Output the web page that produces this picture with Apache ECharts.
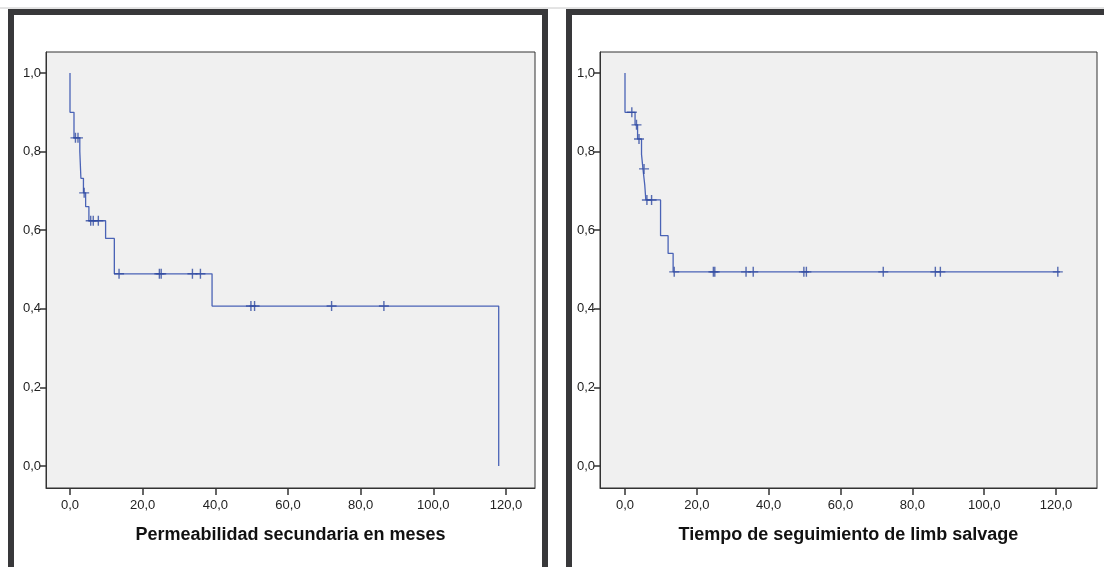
<!DOCTYPE html>
<html>
<head>
<meta charset="utf-8">
<script src="https://cdn.jsdelivr.net/npm/echarts@6/dist/echarts.min.js"></script>
<style>
html,body{margin:0;padding:0;background:#fff;}
#c{width:1104px;height:567px;}
</style>
</head>
<body>
<div id="c"></div>
<script>
// Left panel: Permeabilidad secundaria (Kaplan-Meier)
const leftEventTimes = [0, 1.1, 2.7, 3.0, 3.7, 4.3, 5.2, 9.8, 12.2, 39.1, 118.0];
const leftSurvival   = [0.90, 0.835, 0.80, 0.732, 0.695, 0.66, 0.624, 0.579, 0.489, 0.407, 0.0];
const leftCensored   = [1.5, 2.2, 3.9, 5.7, 6.4, 7.8, 13.5, 24.6, 25.1, 33.7, 35.9, 49.8, 50.8, 72.0, 86.4];
const leftTitle = 'Permeabilidad secundaria en meses';

// Right panel: Tiempo de seguimiento de limb salvage
const rightEventTimes = [0, 2.8, 3.5, 4.6, 5.0, 5.5, 5.8, 9.9, 12.0, 13.4];
const rightSurvival   = [0.90, 0.868, 0.832, 0.793, 0.756, 0.715, 0.677, 0.586, 0.541, 0.494];
const rightCensored   = [1.9, 3.2, 3.9, 5.3, 6.1, 7.4, 13.7, 24.6, 25.0, 33.7, 35.7, 49.8, 50.5, 71.9, 86.4, 87.8, 120.5];
const rightTitle = 'Tiempo de seguimiento de limb salvage';

const xTicks = [0, 20, 40, 60, 80, 100, 120];
const yTicks = [0, 0.2, 0.4, 0.6, 0.8, 1.0];

function survAt(times, surv, t) {
  let s = 1.0;
  for (let i = 0; i < times.length; i++) if (times[i] <= t) s = surv[i];
  return s;
}
function stepLine(times, surv, endT) {
  const pts = [[0, 1.0]];
  for (let i = 0; i < times.length; i++) pts.push([times[i], surv[i]]);
  if (endT != null && endT > times[times.length - 1]) pts.push([endT, surv[surv.length - 1]]);
  return pts;
}
function censorPts(times, surv, cens) {
  return cens.map(t => [t, survAt(times, surv, t)]);
}
const fmt = v => v.toFixed(1).replace('.', ',');

const FONT = 'Liberation Sans, Arial, sans-serif';
const lineColor = '#4a63b6';
const plus = 'path://M-0.14,-1H0.14V1H-0.14ZM-1,-0.14H1V0.14H-1Z';

function xAx(idx, min, max, name) {
  return {
    type: 'value', gridIndex: idx, min: min, max: max,
    splitLine: {show: false},
    axisLine: {show: true, onZero: false, lineStyle: {color: '#333', width: 1}},
    axisTick: {show: true, inside: false, length: 7, customValues: xTicks, lineStyle: {color: '#333', width: 1.5}},
    axisLabel: {customValues: xTicks, formatter: fmt, color: '#222', fontSize: 13, fontFamily: FONT, margin: 11},
    name: name, nameLocation: 'middle', nameGap: 38,
    nameTextStyle: {fontFamily: FONT, fontWeight: 'bold', fontSize: 18, color: '#111'}
  };
}
function yAx(idx) {
  return {
    type: 'value', gridIndex: idx, min: -0.056, max: 1.0534,
    splitLine: {show: false},
    axisLine: {show: true, onZero: false, lineStyle: {color: '#333', width: 1}},
    axisTick: {show: true, inside: false, length: 6, customValues: yTicks, lineStyle: {color: '#333', width: 1.5}},
    axisLabel: {customValues: yTicks, formatter: fmt, color: '#222', fontSize: 13, fontFamily: FONT, margin: 5}
  };
}

const leftEnd = null;
const rightEnd = rightCensored[rightCensored.length - 1] + 0.6;

const option = {
  animation: false,
  backgroundColor: '#ffffff',
  grid: [
    {left: 46, top: 52, width: 489, height: 436, show: true, backgroundColor: '#f0f0f0', borderColor: '#333', borderWidth: 1},
    {left: 600, top: 52, width: 497, height: 436, show: true, backgroundColor: '#f0f0f0', borderColor: '#333', borderWidth: 1}
  ],
  xAxis: [
    xAx(0, -6.606, 127.99, leftTitle),
    xAx(1, -6.96, 131.41, rightTitle)
  ],
  yAxis: [yAx(0), yAx(1)],
  series: [
    {type: 'line', xAxisIndex: 0, yAxisIndex: 0, step: 'end', showSymbol: false, symbol: 'none',
     lineStyle: {color: lineColor, width: 1.3}, data: stepLine(leftEventTimes, leftSurvival, leftEnd), z: 3},
    {type: 'scatter', xAxisIndex: 0, yAxisIndex: 0, symbol: plus, symbolSize: 10,
     itemStyle: {color: '#2f4aa0'}, data: censorPts(leftEventTimes, leftSurvival, leftCensored), z: 4},
    {type: 'line', xAxisIndex: 1, yAxisIndex: 1, step: 'end', showSymbol: false, symbol: 'none',
     lineStyle: {color: lineColor, width: 1.3}, data: stepLine(rightEventTimes, rightSurvival, rightEnd), z: 3},
    {type: 'scatter', xAxisIndex: 1, yAxisIndex: 1, symbol: plus, symbolSize: 10,
     itemStyle: {color: '#2f4aa0'}, data: censorPts(rightEventTimes, rightSurvival, rightCensored), z: 4}
  ],
  graphic: [
    {type: 'line', shape: {x1: 0, y1: 8, x2: 1104, y2: 8}, style: {stroke: '#c8c8c8', lineWidth: 1}, z: 90},
    {type: 'rect', shape: {x: 11, y: 12, width: 534, height: 620}, style: {fill: 'none', stroke: '#38383a', lineWidth: 6}, z: 100},
    {type: 'rect', shape: {x: 569, y: 12, width: 620, height: 620}, style: {fill: 'none', stroke: '#38383a', lineWidth: 6}, z: 100}
  ]
};

const chart = echarts.init(document.getElementById('c'), null, {renderer: 'canvas'});
chart.setOption(option);
</script>
</body>
</html>
